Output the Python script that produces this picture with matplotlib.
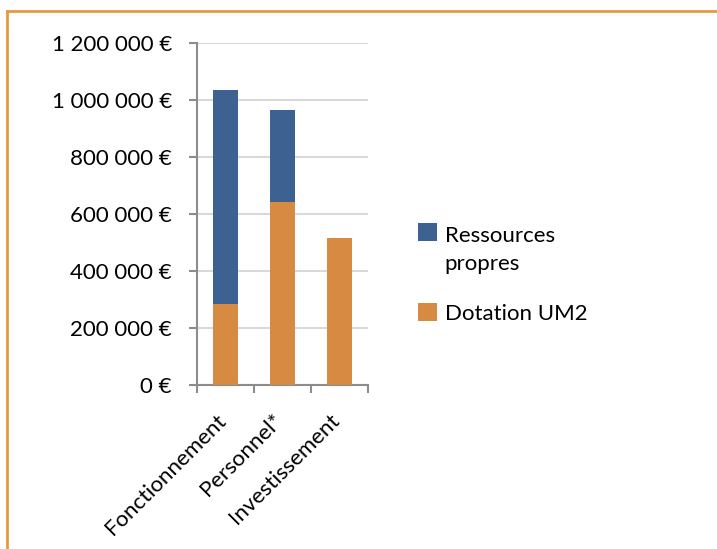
import matplotlib
matplotlib.use("Agg")
import matplotlib.pyplot as plt
import matplotlib.transforms as mtransforms
from matplotlib.legend_handler import HandlerPatch
from matplotlib.lines import Line2D
from matplotlib.patches import Rectangle
from matplotlib.ticker import FuncFormatter, FixedLocator

categories = ["Fonctionnement", "Personnel*", "Investissement"]
dotation_um2 = [285000, 641000, 515000]
ressources_propres = [752000, 326000, 0]
y_ticks = [0, 200000, 400000, 600000, 800000, 1000000, 1200000]

BLUE = "#3D6190"
ORANGE = "#D68A42"
AXIS = "#8C8C8C"

plt.rcParams["font.family"] = ["Lato", "DejaVu Sans"]


def euro(v, pos=None):
    s = f"{int(v):,}".replace(",", " ")
    return f"{s} €"


class TopSquare(HandlerPatch):
    # square aligned with the first line of a two-line label
    def create_artists(self, legend, orig_handle, xdescent, ydescent,
                       width, height, fontsize, trans):
        p = Rectangle((-xdescent, -ydescent + 0.85 * fontsize), width, height,
                      facecolor=orig_handle.patches[0].get_facecolor(),
                      edgecolor="none")
        p.set_transform(trans)
        return [p]


fig = plt.figure(figsize=(7.17, 5.49), dpi=100)
ax = fig.add_axes([197 / 717, 1 - 385 / 549, 171 / 717, 341.7 / 549])

xs = list(range(len(categories)))
ax.bar(xs, dotation_um2, width=0.43, color=ORANGE, label="Dotation UM2", zorder=3)
ax.bar(xs, ressources_propres, width=0.43, bottom=dotation_um2, color=BLUE,
       label="Ressources\npropres", zorder=3)

ax.set_xlim(-0.5, len(categories) - 0.5)
ax.set_ylim(0, 1200000)
ax.yaxis.set_major_locator(FixedLocator(y_ticks))
ax.yaxis.set_major_formatter(FuncFormatter(euro))
ax.grid(axis="y", color="#D9D9D9", linewidth=1.5, zorder=0)

ax.set_xticks(xs)
ax.set_xticklabels(categories, rotation=45, ha="right", rotation_mode="anchor")
ax.set_xticks([-0.5, 0.5, 1.5, 2.5], minor=True)
ax.tick_params(axis="x", which="major", length=0, pad=16, labelsize=16)
ax.tick_params(axis="x", which="minor", length=6, width=1.5, color=AXIS)
ax.tick_params(axis="y", length=6, width=1.5, color=AXIS, labelsize=16, pad=12)
shift = mtransforms.ScaledTranslation(-0.10, -0.03, fig.dpi_scale_trans)
for lab in ax.get_xticklabels():
    lab.set_transform(lab.get_transform() + shift)

for side in ["top", "right"]:
    ax.spines[side].set_visible(False)
for side in ["left", "bottom"]:
    ax.spines[side].set_color(AXIS)
    ax.spines[side].set_linewidth(1.5)

handles, labels = ax.get_legend_handles_labels()
handles, labels = handles[::-1], labels[::-1]
leg = ax.legend(handles, labels, loc="center left",
                bbox_to_anchor=(398 / 717, 274 / 549),
                bbox_transform=fig.transFigure, frameon=False, fontsize=16,
                handlelength=0.85, handleheight=0.85, handletextpad=0.35,
                labelspacing=1.3, handler_map={handles[0]: TopSquare()})
for t in leg.get_texts():
    t.set_linespacing(1.5)

# orange border of the chart area
border = "#E59A3D"
fig.add_artist(Line2D([7 / 717, 1], [1 - 11 / 549] * 2, color=border, linewidth=2,
                      transform=fig.transFigure))
fig.add_artist(Line2D([7 / 717] * 2, [0, 1 - 11 / 549], color=border, linewidth=2,
                      transform=fig.transFigure))

fig.savefig("out.png", dpi=100)
